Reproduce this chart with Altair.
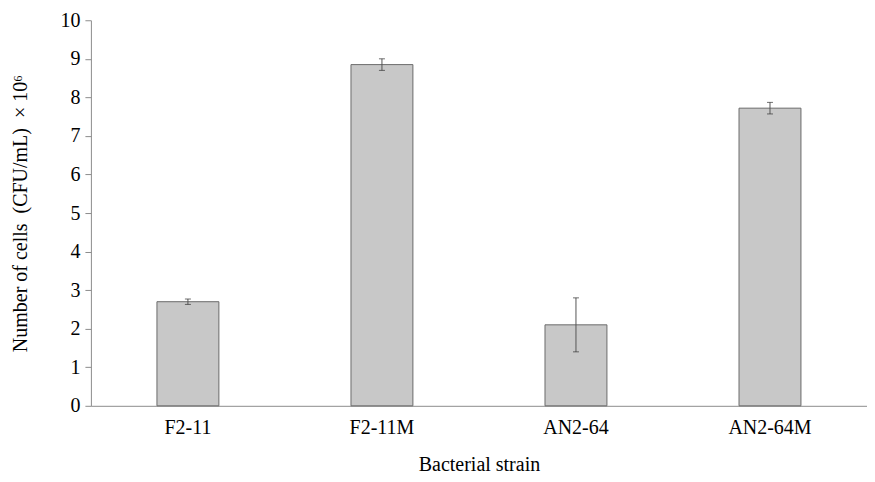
import altair as alt
import pandas as pd

strains = ["F2-11", "F2-11M", "AN2-64", "AN2-64M"]
values = [2.70, 8.85, 2.10, 7.72]
errors = [0.07, 0.15, 0.70, 0.15]
y_ticks = [0, 1, 2, 3, 4, 5, 6, 7, 8, 9, 10]

df = pd.DataFrame({"strain": strains, "value": values, "err": errors})
df["lo"] = df["value"] - df["err"]
df["hi"] = df["value"] + df["err"]

FONT = "Liberation Serif"
NB = "\u00a0"

yscale = alt.Scale(domain=[0, 10], nice=False)
yaxis = alt.Axis(title=f"Number of cells{NB}{NB}(CFU/mL){NB}{NB}× 10⁶", values=y_ticks,
                 labelOverlap=False, grid=False, tickSize=6, tickColor="#8c8c8c",
                 domainColor="#8c8c8c", labelPadding=5, titlePadding=29)

xenc = alt.X("strain:N", sort=strains,
             scale=alt.Scale(paddingInner=0, paddingOuter=0),
             axis=alt.Axis(title="Bacterial strain", labelAngle=0, ticks=False,
                           labelPadding=12, titlePadding=17, domainColor="#8c8c8c"))

bars = alt.Chart(df).mark_bar(size=62, color="#c8c8c8", stroke="#6a6a6a",
                              strokeWidth=1).encode(
    x=xenc,
    y=alt.Y("value:Q", scale=yscale, axis=yaxis),
)

rules = alt.Chart(df).mark_rule(color="#555555", strokeWidth=1).encode(
    x=xenc, y=alt.Y("lo:Q", scale=yscale, axis=yaxis), y2="hi:Q")
caps_hi = alt.Chart(df).mark_tick(color="#333333", size=6, thickness=1, orient="horizontal").encode(
    x=xenc, y=alt.Y("hi:Q", scale=yscale, axis=yaxis))
caps_lo = alt.Chart(df).mark_tick(color="#333333", size=6, thickness=1, orient="horizontal").encode(
    x=xenc, y=alt.Y("lo:Q", scale=yscale, axis=yaxis))

chart = alt.layer(bars, rules, caps_hi, caps_lo).properties(
    width=777, height=386,
    autosize=alt.AutoSizeParams(type="none"),
    padding={"left": 83, "top": 12, "right": 0, "bottom": 68},
).configure_axis(
    labelFont=FONT, titleFont=FONT, labelFontSize=20, titleFontSize=20,
    labelColor="#000000", titleColor="#000000", titleFontWeight="normal",
).configure_view(stroke=None)

chart.save("out.html", embed_options={"renderer": "svg", "actions": False})
